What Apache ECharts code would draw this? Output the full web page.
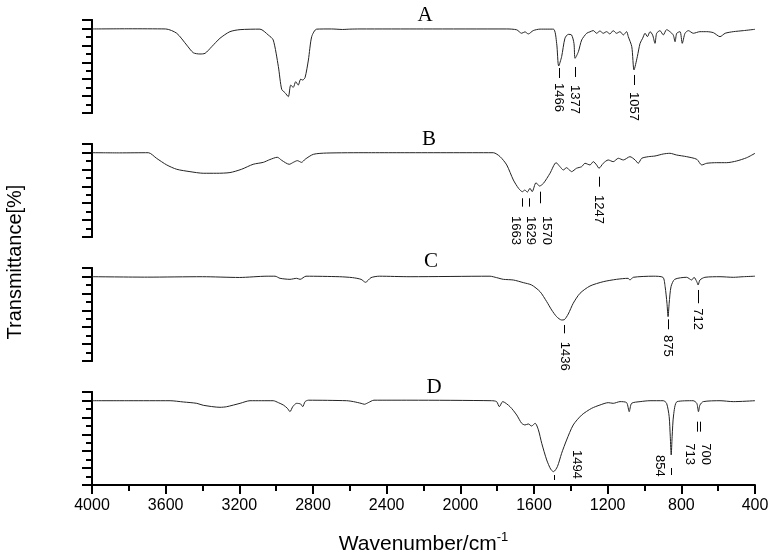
<!DOCTYPE html>
<html><head><meta charset="utf-8">
<script src="https://cdn.jsdelivr.net/npm/echarts@6/dist/echarts.min.js"></script>
<style>html,body{margin:0;padding:0;background:#fff}#c{width:775px;height:559px}</style>
</head><body><div id="c"></div>
<script>
// ---- data (wavenumber cm-1, relative transmittance) ----
const panelNames = ['A', 'B', 'C', 'D'];
const xTicksMin = 400, xTicksMax = 4000;

const specA = [[4000,99.4],[3800,99.6],[3600,99.4],[3540,94.3],[3486,80.4],[3450,71.3],[3414,69.8],[3386,70.6],[3350,78.4],[3305,88.4],[3251,96.2],[3196,98.6],[3088,99.2],[3043,92.3],[3016,86.4],[2988,54.8],[2970,28],[2952,24],[2934,19.3],[2921,33],[2907,30.4],[2894,37],[2880,33],[2867,40],[2856,39],[2843,42],[2825,62.7],[2807,90.3],[2780,99.2],[2700,99.4],[2640,98.8],[2600,99.2],[2545,99.4],[2200,99.4],[1748,99.4],[1694,98.4],[1667,94.3],[1649,96],[1631,93.5],[1604,97.5],[1567,99.2],[1495,99.2],[1477,82.4],[1466,55.6],[1450,66.6],[1432,88.4],[1414,93],[1396,92.3],[1383,82.4],[1377,64.7],[1359,72.5],[1341,86.4],[1314,94.3],[1296,96],[1278,97.5],[1260,94.3],[1242,97],[1224,94.3],[1206,96.2],[1188,93.5],[1170,97.4],[1152,94.3],[1133,96.2],[1115,92.3],[1097,96.2],[1088,90.3],[1069,78.4],[1057,50.9],[1039,66.6],[1024,82.4],[1010,88.4],[997,94.3],[984,90.3],[970,96.2],[956,92.3],[943,82.4],[934,94.3],[916,97.4],[898,92.3],[880,98.6],[862,96.2],[844,92.3],[834,84.3],[825,94.3],[807,96.2],[795,82.4],[780,94.3],[762,97.4],[735,94.3],[699,96.2],[662,96.2],[626,95],[590,90.3],[562,94.3],[518,96.2],[464,97.4],[400,99]];

const specB = [[4000,99.7],[3850,99.5],[3694,99.7],[3649,93],[3594,85.2],[3540,80.1],[3468,77.3],[3396,75.4],[3323,75.4],[3251,76.2],[3188,80.1],[3125,86],[3070,88.3],[3034,91.6],[2994,94.3],[2970,90.7],[2929,86],[2907,88.3],[2885,90.3],[2862,88.3],[2843,91.9],[2798,97.8],[2726,99.3],[2500,99.7],[2327,99.7],[1821,99.7],[1784,95],[1748,85.2],[1712,67.4],[1684,57.6],[1663,53.6],[1650,55.5],[1636,53.2],[1622,57.6],[1610,53.6],[1589,64.2],[1570,60.3],[1549,63.4],[1513,75.4],[1480,87.9],[1459,83.2],[1441,79.3],[1423,82],[1396,77.3],[1369,81.3],[1341,83.2],[1323,87.2],[1296,85.2],[1278,89.1],[1260,85.2],[1247,81.3],[1224,87.2],[1197,91.1],[1170,89.1],[1142,93.1],[1115,91.1],[1079,95],[1051,91.1],[1034,87.2],[1015,93.1],[979,95],[943,95.8],[898,98.2],[862,99],[826,97],[771,95],[716,91.9],[689,85.2],[662,87.2],[608,87.9],[554,87.9],[500,89.9],[445,93.8],[400,99]];

const specC = [[4000,99.7],[3700,99.2],[3400,99.7],[3200,98.8],[3050,100.3],[3006,100.3],[2979,97.8],[2925,96.6],[2889,97.8],[2870,96.6],[2838,100.3],[2657,99.7],[2585,98.6],[2539,96.6],[2515,93.1],[2485,98.6],[2440,100.3],[2273,99.7],[1839,100.3],[1803,98.6],[1766,96.6],[1712,95.8],[1658,92.7],[1613,89.9],[1567,82],[1531,70.2],[1504,60.3],[1477,52.4],[1450,48.5],[1436,48.8],[1414,55.6],[1387,68.3],[1350,80.1],[1296,88.7],[1224,93.8],[1152,96.6],[1089,97.8],[1079,95.8],[1061,99],[953,100.3],[900,99],[888,87.9],[878,68.3],[872,52.4],[866,68.3],[856,87.9],[836,96.6],[771,99],[744,95.8],[731,99],[716,93.8],[709,89.9],[699,95.8],[672,99],[590,99.7],[518,99],[464,99.7],[400,100.3]];

const specD = [[4000,99.7],[3800,99.7],[3576,99.7],[3504,98.2],[3431,96.6],[3396,94.3],[3305,91.9],[3269,92.6],[3196,96.6],[3142,99.7],[3016,99.7],[2988,97.4],[2961,94.6],[2939,90.7],[2925,86.7],[2910,92.6],[2889,96.6],[2867,95.8],[2856,92.6],[2843,98.6],[2825,100.3],[2617,99.7],[2580,98.6],[2539,96.6],[2521,95.5],[2500,97.4],[2469,100.3],[2273,100.3],[1830,99.7],[1803,98.6],[1788,92.6],[1770,98.6],[1730,92.6],[1694,82.8],[1667,73],[1649,71],[1631,72.2],[1613,69.8],[1594,73],[1576,65.1],[1558,49.3],[1531,29.6],[1509,18.6],[1494,15.8],[1473,21.7],[1450,37.5],[1423,53.2],[1387,71],[1341,82.8],[1287,90.7],[1242,94.6],[1197,97.4],[1170,96.6],[1133,98.6],[1097,97.4],[1083,86.7],[1070,96.6],[1024,98.6],[970,99.7],[898,99.7],[880,96.6],[866,80.8],[860,57.1],[855,35.5],[850,57.1],[842,82.8],[823,98.6],[736,99.7],[716,96.6],[707,86.7],[699,94.6],[681,98.6],[590,99.7],[518,98.6],[400,99.7]];

// peak annotations: [tick wavenumber, label wavenumber, tick top, tick bottom, label top, label]
const peaksA = [[1466,1466,53.2,41.4,35.5,1466],[1377,1377,54.4,42.6,33.1,1377],[1057,1057,45,33.1,24.8,1057]];
const peaksB = [[1663,1698,45.8,35.9,24.8,1663],[1629,1616,45.8,35.9,24.8,1629],[1570,1529,53.6,39.9,24.8,1570],[1247,1247,71.3,59.5,49.7,1247]];
const peaksC = [[1436,1436,42.6,32.7,22.8,1436],[875,875,49.3,37.5,30.8,875],[712,712,84,68.3,62.3,712]];
const peaksD = [[1494,1494,11.8,5.9,0,''],[1494,1368,0,0,41.4,1494],[854,854,20.1,11.8,0,''],[854,920,0,0,35.5,854],[713,713,74.9,63.1,0,''],[700,700,74.9,63.1,0,''],[713,753,0,0,49.3,713],[700,671,0,0,49.3,700]];

const spectra = [specA, specB, specC, specD];
const peaks = [peaksA, peaksB, peaksC, peaksD];

// ---- layout / style ----
const gridTops = [20, 144, 268, 392];
const gridH = 93;
const FONT = '"Liberation Sans", Arial, sans-serif';

const chart = echarts.init(document.getElementById('c'), null, {renderer: 'canvas'});

const grids = [], xAxes = [], yAxes = [], series = [];
for (let i = 0; i < 4; i++) {
  grids.push({left: 92, right: 20, top: gridTops[i], height: gridH});
  const last = i === 3;
  xAxes.push({
    gridIndex: i, type: 'value', min: xTicksMin, max: xTicksMax, interval: 400, inverse: true,
    show: last,
    axisLine: {show: true, onZero: false, lineStyle: {color: '#000', width: 2}},
    axisTick: {show: true, length: 9, lineStyle: {color: '#000', width: 2}},
    minorTick: {show: true, splitNumber: 2, length: 6, lineStyle: {color: '#000', width: 2}},
    axisLabel: {show: true, color: '#000', fontSize: 16, fontFamily: FONT, margin: 13,
      formatter: function (v) { return String(v); }},
    splitLine: {show: false}, minorSplitLine: {show: false},
    name: last ? '{a|Wavenumber/cm}{b|-1}' : '', nameLocation: 'middle', nameGap: 46,
    nameTextStyle: {rich: {
      a: {fontSize: 21, fontFamily: FONT, color: '#000', lineHeight: 26},
      b: {fontSize: 13, fontFamily: FONT, color: '#000', verticalAlign: 'top', lineHeight: 14}
    }}
  });
  const base = {gridIndex: i, type: 'value', min: 0, max: 110, position: 'left',
    axisLine: {show: true, onZero: false, lineStyle: {color: '#000', width: 2}},
    axisLabel: {show: false}, splitLine: {show: false}};
  yAxes.push(Object.assign({}, base, {interval: 20, axisTick: {show: true, length: 10, lineStyle: {color: '#000', width: 2}}}));
  yAxes.push(Object.assign({}, base, {interval: 10, axisTick: {show: true, length: 6, lineStyle: {color: '#000', width: 2}}}));
  series.push({
    type: 'line', xAxisIndex: i, yAxisIndex: 2 * i, data: spectra[i],
    showSymbol: false, symbol: 'none', smooth: 0.25, animation: false,
    lineStyle: {color: '#222', width: 1}
  });
  series.push({
    type: 'custom', xAxisIndex: i, yAxisIndex: 2 * i, data: peaks[i], animation: false,
    encode: {x: [0, 1], y: [2, 3, 4]},
    renderItem: function (params, api) {
      const tw = api.value(0), lw = api.value(1), t1 = api.value(2), t2 = api.value(3), lt = api.value(4);
      const txt = peaks[i][params.dataIndex][5];
      const children = [];
      if (t1 !== t2) {
        const p1 = api.coord([tw, t1]), p2 = api.coord([tw, t2]);
        children.push({type: 'line', shape: {x1: Math.round(p1[0]) + 0.5, y1: p1[1], x2: Math.round(p2[0]) + 0.5, y2: p2[1]},
          style: {stroke: '#000', lineWidth: 1}});
      }
      if (txt !== '') {
        const pl = api.coord([lw, lt]);
        children.push({type: 'text', x: pl[0], y: pl[1], rotation: -Math.PI / 2,
          style: {text: String(txt), fill: '#000', font: '13px ' + FONT,
            textAlign: 'left', textVerticalAlign: 'middle', align: 'left', verticalAlign: 'middle'}});
      }
      return {type: 'group', children: children};
    }
  });
}

const letterPos = [[425, 15], [429, 139], [431, 261], [434, 387]];
const graphics = panelNames.map((n, i) => ({
  type: 'text', x: letterPos[i][0], y: letterPos[i][1],
  style: {text: n, fill: '#000', font: '21px "Liberation Serif", "Times New Roman", serif',
    textAlign: 'center', textVerticalAlign: 'middle', align: 'center', verticalAlign: 'middle'}
}));
graphics.push({
  type: 'text', x: 15, y: 262, rotation: Math.PI / 2,
  style: {text: 'Transmittance[%]', fill: '#000', font: '20px ' + FONT,
    textAlign: 'center', textVerticalAlign: 'middle', align: 'center', verticalAlign: 'middle'}
});

chart.setOption({
  animation: false,
  grid: grids, xAxis: xAxes, yAxis: yAxes, series: series, graphic: graphics
});
</script></body></html>
